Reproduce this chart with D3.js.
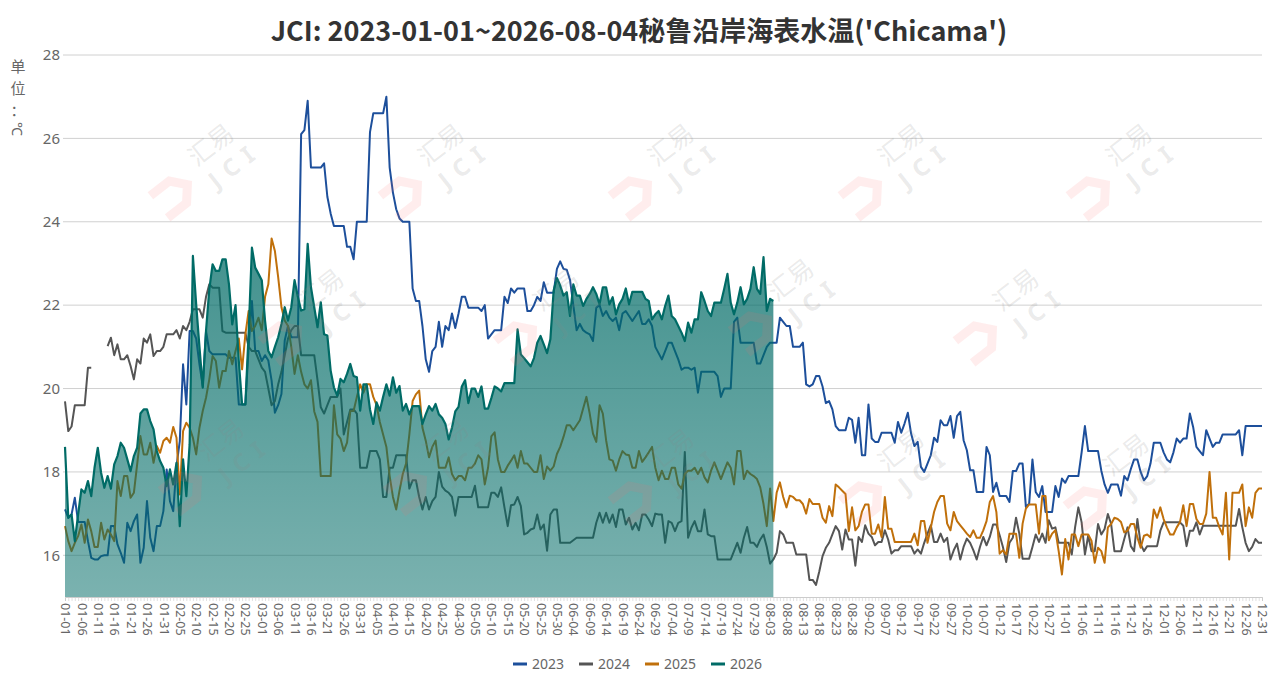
<!DOCTYPE html>
<html><head><meta charset="utf-8">
<script src="https://cdn.jsdelivr.net/npm/d3@7"></script>
<style>
body{margin:0;background:#fff;}
svg{display:block;font-family:"Noto Sans","Noto Sans CJK SC",sans-serif;}
</style>
</head><body>
<svg id="chart" width="1278" height="689"></svg>
<script>
const titleText = "JCI: 2023-01-01~2026-08-04秘鲁沿岸海表水温('Chicama')";
const unitChars = ["单", "位", "："];
const unitSymbol = "℃";
const yTickValues = [16, 18, 20, 22, 24, 26, 28];
const seriesNames = ["2023", "2024", "2025", "2026"];
const seriesColors = ["#1d4f9b", "#555555", "#c0700b", "#006b66"];

const s2023 = [
17.1,16.9,16.98,17.38,16.8,16.8,16.8,16.34,15.94,15.9,
15.9,15.98,16.0,16.0,16.7,16.7,16.26,16.06,15.82,16.78,
16.58,16.82,16.98,15.82,16.18,17.3,16.42,16.1,16.7,16.7,
17.06,18.06,17.3,17.06,18.14,18.74,20.58,19.62,21.38,21.38,
21.2,20.58,20.06,21.38,20.9,20.82,20.82,20.82,20.82,20.82,
20.74,20.74,20.74,19.62,19.62,19.62,21.0,22.1,20.9,20.9,
20.66,20.8,20.67,20.19,19.42,19.6,19.87,21.15,21.5,21.23,
21.23,21.23,26.1,26.2,26.9,25.3,25.3,25.3,25.3,25.4,
24.6,24.2,23.9,23.9,23.9,23.9,23.4,23.4,23.1,24.0,
24.0,24.0,24.0,26.15,26.6,26.6,26.6,26.6,27.0,25.3,
24.7,24.3,24.08,24.0,24.0,24.0,22.4,22.1,22.1,21.5,
20.7,20.4,20.9,21.0,21.6,21.0,21.5,21.4,21.8,21.45,
21.8,22.2,22.2,21.94,21.94,21.94,21.94,21.86,22.0,21.2,
21.3,21.4,21.4,21.4,22.2,22.05,22.4,22.3,22.4,22.4,
22.4,21.86,21.86,22.0,22.2,22.1,22.55,22.3,22.3,22.3,
22.87,23.05,22.87,22.85,22.6,22.0,21.4,21.55,21.4,21.34,
21.3,21.14,21.94,22.0,21.74,21.86,21.7,21.62,21.7,21.4,
21.8,21.86,21.74,21.62,21.74,21.86,21.55,21.55,21.66,21.5,
21.0,20.85,20.7,20.9,21.1,21.1,20.9,20.7,20.45,20.5,
20.5,20.45,20.5,19.9,20.4,20.4,20.4,20.4,20.4,20.3,
19.8,20.0,20.0,20.0,21.6,21.7,21.1,21.1,21.1,21.1,
21.1,20.6,20.6,20.8,21.0,21.1,21.1,21.1,21.7,21.6,
21.5,21.5,21.0,21.0,21.0,21.1,20.1,20.05,20.1,20.3,
20.3,20.05,19.65,19.7,19.5,19.1,19.0,19.0,19.0,19.3,
19.25,18.7,19.3,18.4,18.4,19.62,18.8,18.72,18.72,18.94,
18.94,18.94,18.94,18.7,19.2,18.94,19.16,19.42,18.92,18.62,
18.72,18.12,18.0,18.2,18.4,18.82,18.72,19.24,19.12,19.12,
19.34,18.82,19.34,19.44,18.76,18.52,18.04,18.04,17.52,17.52,
17.52,18.6,18.4,17.52,17.74,17.42,17.42,17.42,17.28,18.02,
18.02,18.2,18.2,17.16,17.24,18.3,17.52,17.4,17.66,17.04,
17.04,17.04,17.66,17.4,17.84,17.74,17.9,17.9,17.9,17.9,
18.47,19.1,18.5,18.5,18.5,18.5,18.03,17.7,17.5,17.7,
17.7,17.7,17.43,17.9,17.8,18.07,18.3,18.3,18.0,17.8,
17.9,18.2,18.7,18.7,18.7,18.47,18.3,18.23,18.47,18.8,
18.7,18.8,18.8,19.4,19.08,18.6,18.5,18.4,19.0,18.8,
18.6,18.7,18.7,18.9,18.9,18.9,18.9,18.9,19.0,18.4,
19.1,19.1,19.1,19.1,19.1,19.1
];

const s2024 = [
19.69,18.98,19.09,19.6,19.6,19.6,19.6,20.5,20.5,null,
null,null,null,21.02,21.22,20.8,21.06,20.7,20.7,20.8,
20.54,20.22,20.7,20.6,21.2,21.1,21.3,20.78,20.9,20.9,
21.0,21.3,21.3,21.3,21.4,21.2,21.5,21.4,21.6,21.9,
21.9,21.9,21.7,22.2,22.5,22.42,22.42,22.42,21.38,21.34,
21.34,21.34,21.34,21.34,21.34,21.34,21.0,20.9,20.9,20.7,
20.5,20.4,20.0,19.6,19.7,20.1,20.4,20.8,21.2,21.4,
21.5,21.5,20.8,20.8,20.8,20.8,20.8,20.2,19.55,19.4,
19.6,19.8,19.8,19.8,20.0,18.9,19.2,19.5,19.5,19.4,
18.1,18.1,18.1,18.5,18.5,18.5,18.3,17.4,17.4,18.1,
18.1,18.4,18.4,18.4,18.4,17.6,17.8,17.8,17.4,17.1,
17.4,17.1,17.3,17.4,18.0,17.65,17.55,17.5,17.4,16.95,
17.4,17.4,17.4,17.4,17.4,17.67,17.15,17.15,17.15,17.15,
17.5,17.5,17.4,17.63,17.15,16.7,17.2,17.22,17.4,17.18,
16.5,16.54,16.62,16.65,16.98,16.62,16.74,16.11,16.98,17.1,
17.1,16.3,16.3,16.3,16.3,16.36,16.42,16.42,16.42,16.42,
16.42,16.42,16.78,17.02,16.78,17.02,16.78,16.98,16.68,17.1,
17.1,16.74,16.9,16.62,16.78,16.6,16.98,16.98,16.86,16.7,
17.0,16.98,16.98,16.3,16.82,16.78,16.58,16.78,16.82,18.48,
16.42,16.66,16.82,16.58,16.58,17.1,16.5,16.46,16.46,15.9,
15.9,15.9,15.9,15.9,16.1,16.3,16.06,16.42,16.68,16.3,
16.3,16.2,16.38,16.5,16.2,15.8,15.9,16.06,16.58,16.5,
16.3,16.3,16.3,16.02,16.02,16.02,16.02,15.41,15.41,15.29,
15.61,15.98,16.18,16.3,16.5,16.7,16.58,16.14,16.62,16.38,
16.38,15.75,16.44,16.32,16.72,16.52,16.44,16.24,16.32,16.32,
16.6,16.38,16.04,16.12,16.12,16.22,16.22,16.22,16.22,16.04,
16.14,16.04,16.3,16.52,16.72,16.32,16.32,16.52,16.32,16.42,
15.9,16.12,16.28,15.9,16.2,16.4,16.3,16.12,15.9,16.2,
16.44,16.24,16.44,16.74,16.74,16.48,16.2,15.84,16.3,16.42,
16.9,16.52,15.92,15.92,15.92,16.2,16.5,16.32,16.52,16.3,
16.84,16.64,16.67,16.3,16.3,16.3,16.3,16.02,16.67,17.15,
16.79,16.02,16.47,16.1,16.1,16.75,16.5,16.63,16.99,16.75,
16.1,16.1,16.1,16.39,16.67,16.22,16.1,16.87,16.27,16.1,
16.22,16.22,16.22,16.22,16.59,16.79,16.79,16.79,16.79,16.79,
16.79,16.71,16.22,16.59,16.59,16.79,16.5,16.71,16.71,16.71,
16.71,16.71,16.71,16.71,16.71,16.71,16.71,16.71,17.11,16.67,
16.3,16.1,16.2,16.39,16.3,16.3
];

const s2025 = [
16.7,16.34,16.1,16.3,16.46,16.74,16.3,16.86,16.58,16.2,
16.2,16.78,16.38,16.62,16.5,16.34,17.78,17.42,17.9,17.9,
17.38,17.5,18.18,18.86,18.42,18.42,18.7,18.22,18.62,18.46,
18.74,18.82,18.7,19.08,18.82,17.46,18.98,19.18,19.06,18.82,
18.42,19.06,19.46,19.78,20.22,20.78,20.66,20.02,20.42,20.42,
20.9,20.58,20.9,21.2,20.46,21.3,21.86,21.38,21.5,21.7,
21.4,22.2,22.5,23.6,23.3,22.67,21.95,21.63,21.5,21.0,
20.35,20.8,20.4,20.1,20.0,20.2,19.45,19.2,17.9,17.9,
17.9,17.9,19.6,18.9,18.8,18.5,18.7,19.46,19.46,19.8,
20.1,19.9,20.1,20.1,19.8,19.6,19.2,18.9,18.6,17.9,
17.4,17.1,17.55,17.95,18.2,18.9,19.7,19.86,19.95,19.06,
18.75,18.35,18.6,18.75,18.1,18.1,18.1,18.35,17.95,17.8,
17.9,17.9,17.8,18.1,18.1,18.2,18.4,18.3,17.7,18.1,
18.85,18.95,18.3,18.0,18.0,18.15,18.27,18.4,18.1,18.5,
18.2,18.2,18.1,18.0,18.0,18.4,17.83,18.13,18.03,18.13,
18.43,18.6,18.84,19.12,19.12,19.0,19.12,19.24,19.52,19.8,
19.4,18.92,18.72,19.6,19.4,18.76,18.3,18.27,18.03,18.3,
18.5,18.42,18.4,18.1,18.1,18.5,18.24,18.35,18.47,18.6,
18.1,17.8,18.03,17.83,17.83,18.1,18.1,17.7,17.6,17.95,
18.03,18.03,18.1,17.95,18.1,17.87,17.75,18.03,18.23,18.03,
17.83,18.03,18.23,18.1,17.7,18.5,18.5,17.83,18.03,17.95,
17.9,17.83,17.63,17.23,16.7,17.6,16.82,17.5,17.75,17.4,
17.15,17.43,17.4,17.32,17.32,17.23,17.0,17.35,17.23,17.23,
17.23,16.9,16.78,17.18,16.94,17.7,17.63,17.55,17.47,16.58,
17.15,16.6,16.7,17.04,17.22,17.22,16.52,16.52,16.74,16.44,
17.4,16.64,16.64,16.32,16.32,16.32,16.32,16.32,16.32,16.52,
16.24,16.82,16.82,16.3,16.66,17.04,17.28,17.42,17.42,16.76,
16.6,17.04,16.82,16.72,16.62,16.52,16.44,16.6,16.42,16.42,
16.6,16.82,17.28,17.42,17.04,16.04,16.12,16.02,16.52,16.52,
16.52,15.94,16.76,17.12,17.22,17.22,17.22,16.52,17.42,17.42,
16.36,16.52,16.6,16.1,15.54,16.39,15.9,16.5,16.5,16.22,
16.5,16.5,16.5,16.35,15.82,16.18,16.1,15.82,16.67,16.75,
16.9,16.87,16.8,16.55,16.59,16.75,16.75,16.43,16.18,16.47,
16.5,16.43,17.1,16.9,17.15,16.87,16.67,16.5,16.5,16.67,
16.8,17.2,16.7,17.23,17.23,16.87,16.75,16.75,17.0,18.0,
16.9,16.9,16.67,16.5,17.5,15.9,17.5,17.5,17.5,17.7,
16.7,17.15,16.9,17.5,17.6,17.6
];

const s2026 = [
18.6,16.9,16.98,16.34,16.98,17.58,17.5,17.78,17.42,18.1,
18.58,17.98,17.62,17.9,17.6,18.18,18.38,18.7,18.58,18.3,
18.02,18.38,18.58,19.4,19.5,19.5,19.22,19.02,18.5,18.26,
18.1,17.66,18.06,17.7,18.22,16.7,18.3,17.42,18.66,23.18,
22.02,21.0,20.02,21.38,22.38,22.98,22.82,22.82,23.1,23.1,
22.5,21.54,22.0,20.66,19.62,19.62,21.34,23.38,22.9,22.75,
22.6,21.63,20.9,20.75,21.0,21.23,21.55,21.95,21.63,21.95,
22.6,22.2,21.87,21.9,23.47,22.43,21.95,21.47,22.07,21.3,
21.27,20.43,20.03,19.83,20.23,20.15,20.35,20.59,20.3,20.27,
19.47,20.1,20.1,19.5,19.15,19.67,19.47,19.8,20.1,19.83,
20.27,19.9,20.06,19.47,19.63,19.38,19.58,19.58,19.58,19.15,
19.38,19.58,19.47,19.63,19.38,19.3,19.15,18.78,19.06,19.45,
19.56,20.05,20.2,19.65,20.0,20.0,19.8,20.05,19.52,19.52,
19.77,20.05,20.0,19.93,20.13,20.13,20.13,20.13,21.42,20.82,
20.73,20.63,20.53,20.73,21.1,21.26,21.06,20.85,21.18,22.35,
22.65,22.47,22.23,22.31,21.74,22.5,22.23,22.23,21.98,22.15,
22.27,22.43,22.27,22.02,22.43,22.43,22.02,22.19,21.78,22.02,
22.15,22.4,22.02,22.32,22.32,22.32,22.32,22.15,22.1,21.66,
21.78,21.86,21.66,21.98,22.23,21.74,21.66,21.5,21.34,21.14,
21.58,21.34,21.66,21.66,22.31,22.1,21.86,21.74,22.06,22.06,
22.06,22.39,22.75,22.06,21.78,22.06,22.43,22.02,22.15,22.39,
22.91,22.39,22.27,23.15,21.86,22.15,22.1
];

// day-of-year categories (leap-year calendar, MM-DD)
const fmt = d3.timeFormat("%m-%d");
const categories = d3.timeDay.range(new Date(2024, 0, 1), new Date(2025, 0, 1)).map(fmt);
const labelCategories = categories.filter((d, i) => i % 5 === 0);

const W = 1278, H = 689;
const margin = {left: 65, right: 16, top: 55, bottom: 92};
const svg = d3.select("#chart");

const x = d3.scalePoint().domain(categories).range([margin.left, W - margin.right]);
const y = d3.scaleLinear().domain([15, 28]).range([H - margin.bottom, margin.top]);

// title
svg.append("text").attr("x", 639).attr("y", 41).attr("text-anchor", "middle")
  .attr("font-family", "'Noto Sans CJK SC','Noto Sans',sans-serif")
  .attr("font-size", 27).attr("font-weight", "bold").attr("fill", "#333")
  .text(titleText);

// unit label (vertical)
unitChars.forEach((c, i) => {
  svg.append("text").attr("x", 18).attr("y", 72 + i * 22).attr("text-anchor", "middle")
    .attr("font-family", "'Noto Sans CJK SC',sans-serif")
    .attr("font-size", 15).attr("fill", "#666").text(c);
});
svg.append("text").attr("transform", "translate(12,122) rotate(90)")
  .attr("font-size", 14).attr("fill", "#666").text(unitSymbol);

// grid lines
svg.append("g").selectAll("line").data(yTickValues).join("line")
  .attr("x1", margin.left - 2).attr("x2", W - margin.right)
  .attr("y1", d => y(d)).attr("y2", d => y(d))
  .attr("stroke", "#d0d0d0").attr("stroke-width", 1);

// y axis labels
const yAxis = d3.axisLeft(y).tickValues(yTickValues).tickSize(0).tickPadding(0).tickFormat(d3.format("d"));
const gy = svg.append("g").attr("transform", `translate(${margin.left - 5},0)`).call(yAxis);
gy.select(".domain").remove();
gy.selectAll("text").attr("font-size", 15).attr("fill", "#666").attr("font-family", "'Noto Sans',sans-serif");

// lines for 2023-2025
const lineGen = d3.line().defined(d => d.v != null).x(d => x(d.c)).y(d => y(d.v));
const toPts = arr => arr.map((v, i) => ({c: categories[i], v: v}));
const plotG = svg.append("g");
[s2023, s2024, s2025].forEach((arr, k) => {
  plotG.append("path").datum(toPts(arr)).attr("fill", "none")
    .attr("stroke", seriesColors[k]).attr("stroke-width", 2).attr("stroke-linejoin", "round")
    .attr("d", lineGen);
});

// 2026 area with gradient
const defs = svg.append("defs");
const grad = defs.append("linearGradient").attr("id", "g26").attr("gradientUnits", "userSpaceOnUse")
  .attr("x1", 0).attr("x2", 0).attr("y1", y(23.5)).attr("y2", y(15));
grad.append("stop").attr("offset", "0%").attr("stop-color", "#006b66").attr("stop-opacity", 0.74);
grad.append("stop").attr("offset", "100%").attr("stop-color", "#006b66").attr("stop-opacity", 0.52);
const areaGen = d3.area().defined(d => d.v != null).x(d => x(d.c)).y0(y(15)).y1(d => y(d.v));
plotG.append("path").datum(toPts(s2026)).attr("fill", "url(#g26)").attr("d", areaGen);
plotG.append("path").datum(toPts(s2026)).attr("fill", "none")
  .attr("stroke", seriesColors[3]).attr("stroke-width", 2.2).attr("stroke-linejoin", "round")
  .attr("d", lineGen);

// x axis
const gxTicks = svg.append("g").attr("transform", `translate(0,${y(15)})`)
  .call(d3.axisBottom(x).tickSize(4).tickFormat(""));
gxTicks.select(".domain").attr("stroke", "#ccc");
gxTicks.selectAll(".tick line").attr("stroke", "#ccc").attr("stroke-width", 0.6);
const gx = svg.append("g").attr("transform", `translate(0,${y(15)})`)
  .call(d3.axisBottom(x).tickValues(labelCategories).tickSize(0));
gx.select(".domain").remove();
gx.selectAll("text").attr("transform", "rotate(90)").attr("x", 6).attr("y", 0).attr("dy", "0.35em")
  .attr("text-anchor", "start").attr("font-size", 12.5).attr("fill", "#666")
  .attr("font-family", "'Noto Sans',sans-serif");

// watermarks
const wmPos = [[190,175],[420,175],[650,175],[880,175],[1108,175],
               [300,320],[535,320],[770,310],[995,320],
               [200,470],[425,470],[650,480],[880,480],[1105,485]];
const wm = svg.append("g").attr("pointer-events", "none");
wmPos.forEach(([px, py]) => {
  const g = wm.append("g").attr("transform", `translate(${px},${py}) rotate(-38)`);
  g.append("path").attr("d", "M-44,-8 L-20,-8 L-8,6 L-20,20 L-44,20")
    .attr("fill", "none").attr("stroke", "#ff6b6b").attr("stroke-opacity", 0.12).attr("stroke-width", 9);
  g.append("text").attr("x", 10).attr("y", -2).attr("font-size", 25).attr("fill", "#888").attr("fill-opacity", 0.18)
    .attr("font-family", "'Noto Sans CJK SC',sans-serif").text("汇易");
  g.append("text").attr("x", 12).attr("y", 28).attr("font-size", 24).attr("font-weight", "bold")
    .attr("letter-spacing", 9).attr("fill", "#888").attr("fill-opacity", 0.18).text("JCI");
});

// legend
const legend = svg.append("g");
const legX = [513, 579, 645, 711];
seriesNames.forEach((n, i) => {
  legend.append("line").attr("x1", legX[i]).attr("x2", legX[i] + 14).attr("y1", 664).attr("y2", 664)
    .attr("stroke", seriesColors[i]).attr("stroke-width", 3);
  legend.append("text").attr("x", legX[i] + 19).attr("y", 669).attr("font-size", 14).attr("fill", "#666")
    .text(n);
});
</script>
</body></html>
